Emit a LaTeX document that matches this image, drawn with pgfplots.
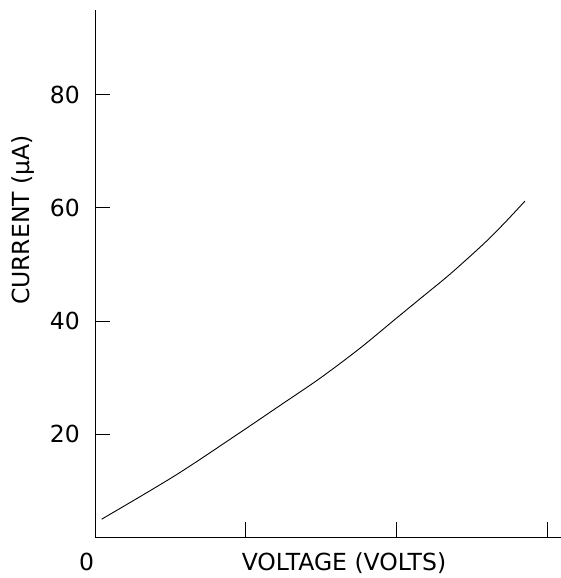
\documentclass[border=0pt]{standalone}
\usepackage{fontspec}
\setmainfont{DejaVu Sans}
\usepackage{pgfplots}
\pgfplotsset{compat=1.18}
\begin{document}
\begin{tikzpicture}
\useasboundingbox (-95pt,-41pt) rectangle (466pt,537pt);
\begin{axis}[
  at={(0,0)}, anchor=south west,
  scale only axis, width=466pt, height=527pt,
  xmin=0, xmax=3.092, ymin=1.855, ymax=94.96,
  axis lines*=left,
  axis line style={line width=0.9pt, black},
  tick style={line width=0.9pt, black},
  tick align=inside,
  major tick length=14.5pt,
  xtick={1,2,3}, xticklabels={},
  ytick={20,40,60,80},
  /pgf/number format/assume math mode=true,
  tick label style={font=\fontsize{23.5}{28}\selectfont},
  yticklabel style={inner sep=0pt, xshift=-15pt},
  xlabel={VOLTAGE (VOLTS)},
  xlabel style={at={(axis description cs:0.5343,0)}, anchor=base, yshift=-33pt, font=\fontsize{23.5}{28}\selectfont},
  ylabel={CURRENT (µA)},
  ylabel style={at={(axis description cs:-0.1545,0.6015)}, anchor=center, font=\fontsize{23.5}{28}\selectfont},
  clip=false,
]
\addplot[black, line width=0.9pt, smooth, tension=0.5] coordinates {
(0.044,5.0) (0.531,12.7) (0.962,20.3) (1.228,25.1) (1.493,29.9) (1.758,35.2) (2.013,40.8) (2.178,44.4) (2.356,48.3) (2.577,53.6) (2.709,57.1) (2.853,61.2)
};
\node[anchor=base, font=\fontsize{23.5}{28}\selectfont, inner sep=0pt] at (axis description cs:-0.018,0) [yshift=-33pt] {0};
\end{axis}
\end{tikzpicture}
\end{document}
